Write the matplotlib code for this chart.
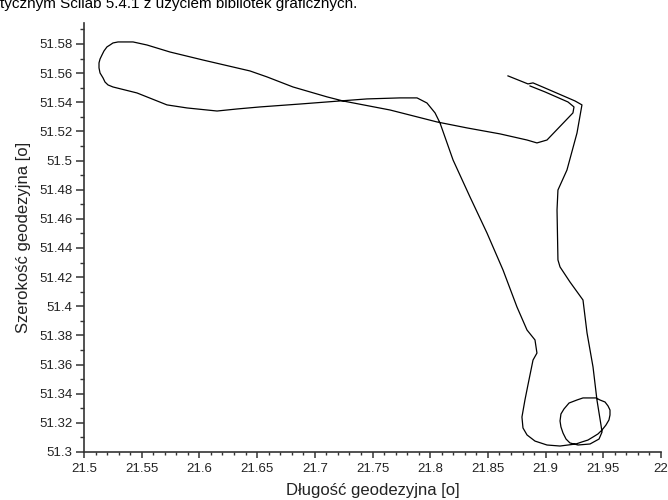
import numpy as np
import matplotlib
matplotlib.use("Agg")
from matplotlib import pyplot as plt
from matplotlib.ticker import MultipleLocator, FuncFormatter

plt.rcParams['font.family'] = ['Liberation Sans', 'DejaVu Sans']

# trasa GPS: dlugosc i szerokosc geodezyjna [stopnie]
lon = [21.8674, 21.8847, 21.8891, 21.8995, 21.9255, 21.9315, 21.9272, 21.9185,
       21.9107, 21.9099, 21.9107, 21.9125, 21.9211, 21.9324, 21.9359, 21.9411,
       21.9445, 21.9480, 21.9489, 21.9463, 21.9385, 21.9281, 21.9211, 21.9177,
       21.9151, 21.9133, 21.9125, 21.9133, 21.9159, 21.9203, 21.9272, 21.9324,
       21.9385, 21.9437, 21.9471, 21.9515, 21.9541, 21.9558, 21.9558, 21.9549,
       21.9523, 21.9489, 21.9454, 21.9411, 21.9367, 21.9315, 21.9263, 21.9125,
       21.9012, 21.8908, 21.8839, 21.8804, 21.8795, 21.8821, 21.8847, 21.8891,
       21.8925, 21.8908, 21.8839, 21.8752, 21.8631, 21.8492, 21.8345, 21.8198,
       21.8085, 21.8042, 21.7972, 21.7886, 21.7738, 21.7452, 21.7218, 21.6872,
       21.6525, 21.6326, 21.6153, 21.5893, 21.5719, 21.5459, 21.5251, 21.5208,
       21.5182, 21.5165, 21.5139, 21.5130, 21.5130, 21.5139, 21.5156, 21.5173,
       21.5199, 21.5225, 21.5251, 21.5295, 21.5338, 21.5425, 21.5546, 21.5745,
       21.6031, 21.6438, 21.6586, 21.6811, 21.7106, 21.7244, 21.7652, 21.8059,
       21.8319, 21.8605, 21.8839, 21.8925, 21.9012, 21.9237, 21.9246, 21.9194,
       21.8995, 21.8865]
lat = [51.5581, 51.5526, 51.5533, 51.5498, 51.5409, 51.5382, 51.5189, 51.4935,
       51.4798, 51.4661, 51.4318, 51.4270, 51.4167, 51.4043, 51.3817, 51.3583,
       51.3357, 51.3185, 51.3137, 51.3089, 51.3055, 51.3048, 51.3062, 51.3089,
       51.3130, 51.3172, 51.3213, 51.3261, 51.3295, 51.3336, 51.3357, 51.3371,
       51.3371, 51.3371, 51.3357, 51.3343, 51.3316, 51.3288, 51.3254, 51.3220,
       51.3185, 51.3151, 51.3124, 51.3103, 51.3082, 51.3069, 51.3055, 51.3041,
       51.3048, 51.3075, 51.3117, 51.3165, 51.3240, 51.3357, 51.3460, 51.3631,
       51.3679, 51.3769, 51.3837, 51.3995, 51.4249, 51.4503, 51.4750, 51.5004,
       51.5258, 51.5327, 51.5395, 51.5430, 51.5430, 51.5423, 51.5409, 51.5388,
       51.5368, 51.5354, 51.5340, 51.5361, 51.5382, 51.5464, 51.5505, 51.5519,
       51.5539, 51.5567, 51.5601, 51.5636, 51.5670, 51.5697, 51.5725, 51.5752,
       51.5780, 51.5793, 51.5807, 51.5814, 51.5814, 51.5814, 51.5793, 51.5745,
       51.5690, 51.5615, 51.5574, 51.5505, 51.5437, 51.5409, 51.5347, 51.5265,
       51.5224, 51.5183, 51.5141, 51.5121, 51.5141, 51.5327, 51.5368, 51.5402,
       51.5471, 51.5512]

header = "tycznym Scilab 5.4.1 z użyciem bibliotek graficznych."
xlab = "Długość geodezyjna [o]"
ylab = "Szerokość geodezyjna [o]"

fig = plt.figure(figsize=(6.68, 5.0), dpi=100)
ax = fig.add_axes([84/668, 48/500, 577/668, 429/500])

ax.plot(lon, lat, color='black', linewidth=0.9)

ax.set_xlim(21.5, 22.0)
ax.set_ylim(51.3, 51.5944)

for s in ['top', 'right']:
  ax.spines[s].set_visible(False)
for s in ['left', 'bottom']:
  ax.spines[s].set_color('#333333')
  ax.spines[s].set_linewidth(1.2)

fmt = FuncFormatter(lambda v, p: '%g' % round(v, 4))
ax.xaxis.set_major_locator(MultipleLocator(0.05))
ax.xaxis.set_minor_locator(MultipleLocator(0.01))
ax.yaxis.set_major_locator(MultipleLocator(0.02))
ax.yaxis.set_minor_locator(MultipleLocator(0.01))
ax.xaxis.set_major_formatter(fmt)
ax.yaxis.set_major_formatter(fmt)

ax.tick_params(axis='x', which='major', direction='out', length=4, width=1.1,
               color='#333333', labelsize=9.5, labelcolor='#222222', pad=4)
ax.tick_params(axis='x', which='minor', direction='out', length=2, width=1.0, color='#333333')
ax.tick_params(axis='y', which='major', direction='out', length=5.5, width=1.1,
               color='#333333', labelsize=9.5, labelcolor='#222222', pad=3)
ax.tick_params(axis='y', which='minor', direction='out', length=3, width=1.0, color='#333333')

ax.set_xlabel(xlab, fontsize=12, color='#222222', labelpad=6)
ax.set_ylabel(ylab, fontsize=12, color='#222222', labelpad=6)

# pierwsza linia tekstu nad wykresem, przycieta gorna krawedzia
fig.text(0.0, 1 - 8/500, header, fontsize=11, color='black', va='baseline', ha='left')

fig.savefig("out.png", dpi=100)
